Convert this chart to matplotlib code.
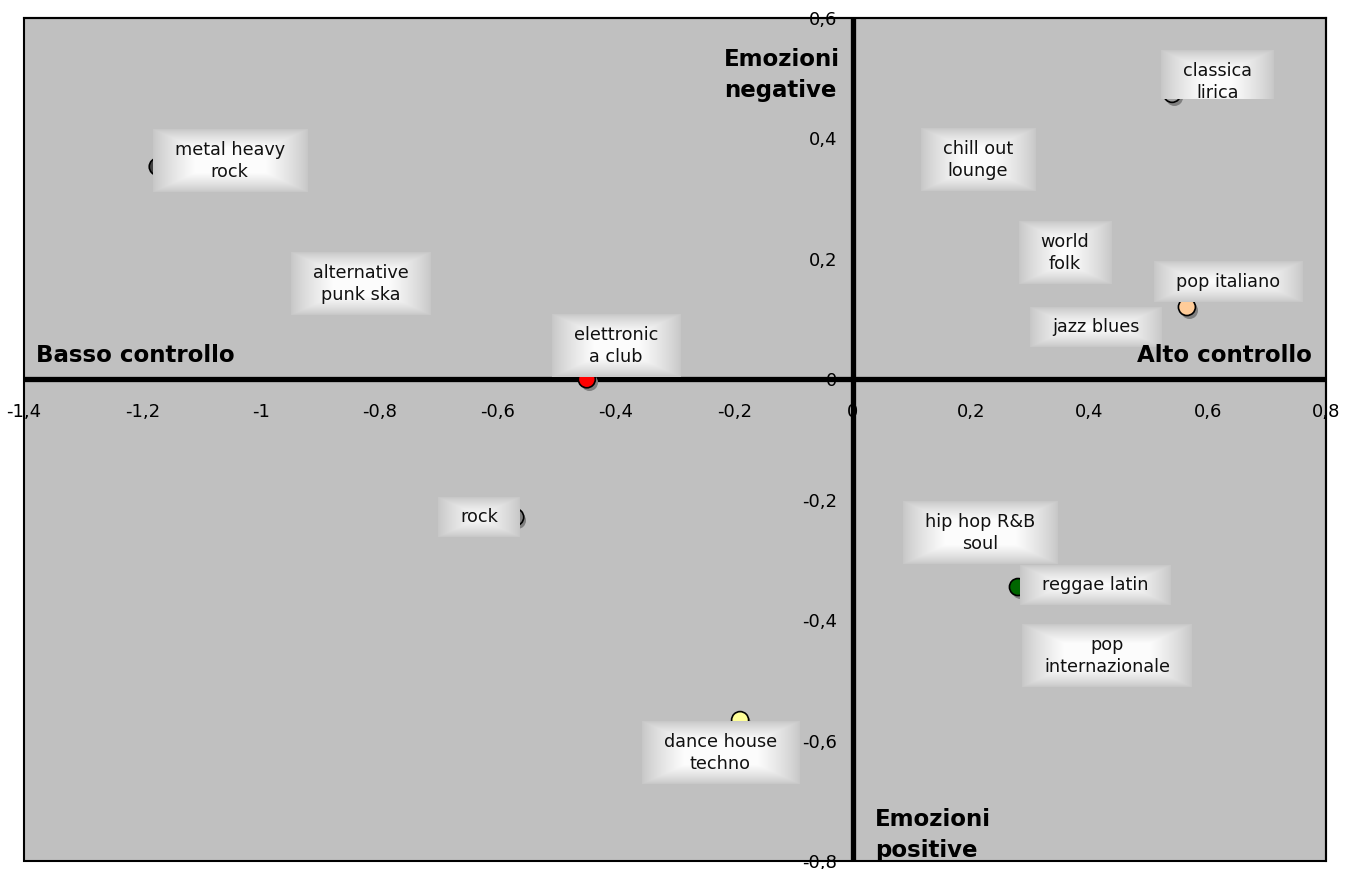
import matplotlib
matplotlib.use("Agg")
import matplotlib.pyplot as plt
import matplotlib.transforms as mtransforms
import numpy as np

plt.rcParams['font.family'] = ['DejaVu Sans']

# ---- data ----
genres = ["metal heavy\nrock", "alternative\npunk ska", "elettronic\na club", "rock",
          "dance house\ntechno", "classica\nlirica", "chill out\nlounge", "world\nfolk",
          "pop italiano", "jazz blues", "hip hop R&B\nsoul", "reggae latin",
          "pop\ninternazionale"]
controllo = [-1.174, -0.831, -0.449, -0.570, -0.190, 0.540, 0.212, 0.359,
             0.565, 0.411, 0.215, 0.2795, 0.430]
emozioni = [0.353, 0.158, 0.000, -0.229, -0.566, 0.474, 0.364, 0.210,
            0.120, 0.087, -0.255, -0.345, -0.460]
x_ticks = [-1.4, -1.2, -1.0, -0.8, -0.6, -0.4, -0.2, 0.0, 0.2, 0.4, 0.6, 0.8]
x_tick_labels = ["-1,4", "-1,2", "-1", "-0,8", "-0,6", "-0,4", "-0,2", "0", "0,2", "0,4", "0,6", "0,8"]
y_ticks = [-0.8, -0.6, -0.4, -0.2, 0.0, 0.2, 0.4, 0.6]
y_tick_labels = ["-0,8", "-0,6", "-0,4", "-0,2", "0", "0,2", "0,4", "0,6"]

# ---- styles ----
marker_colors = ["#404040", "#996633", "#ff0000", "#808080", "#ffff99", "#a0a0a0", "#9999ff",
                 "#66cc66", "#ffcc99", "#3366cc", "#cc6600", "#006600", "#ff99cc"]
label_offsets = [(72, 6), (0, 0), (29, 33), (-36, 0), (-20, -33), (45, 12), (0, 0),
                 (0, 0), (41, 25), (0, 0), (0, 0), (77, 2), (0, 0)]
label_clip_bottom_px = [None, None, None, None, None, 99, None, None, None, None, None, None, None]
PAD_X, PAD_Y = 22, 11
FADE_X, FADE_Y = 42, 19

W, H = 1358, 869
fig = plt.figure(figsize=(W / 100, H / 100), dpi=100)
ax = fig.add_axes([24 / W, 1 - 861 / H, 1302 / W, 843 / H])
ax.set_facecolor("#c0c0c0")
ax.set_xlim(-1.4, 0.8)
ax.set_ylim(-0.8, 0.6)
ax.set_autoscale_on(False)

for s in ["top", "right"]:
    ax.spines[s].set_linewidth(1.5)
ax.spines["left"].set_position(("data", 0))
ax.spines["bottom"].set_position(("data", 0))
ax.spines["left"].set_linewidth(3.8)
ax.spines["bottom"].set_linewidth(3.8)
ax.spines["left"].set_capstyle("butt")
ax.spines["bottom"].set_capstyle("butt")
ax.add_patch(plt.Rectangle((0, 0), 1, 1, transform=ax.transAxes, fill=False,
                           edgecolor="black", linewidth=1.5, zorder=2.6, clip_on=False))

ax.set_xticks(x_ticks)
ax.set_xticklabels(x_tick_labels)
ax.set_yticks(y_ticks)
ax.set_yticklabels(y_tick_labels)
ax.tick_params(axis="x", length=0, pad=17, labelsize=13)
ax.tick_params(axis="y", length=0, pad=11, labelsize=13)

# markers with shadow
shadow = mtransforms.offset_copy(ax.transData, fig=fig, x=2, y=-3, units="dots")
ax.scatter(controllo, emozioni, s=150, color="#7f7f7f", transform=shadow, zorder=3.5,
           linewidths=0)
ax.scatter(controllo, emozioni, s=150, c=marker_colors, edgecolors="black",
           linewidths=1.2, zorder=4)

texts = []
for name, xv, yv, off in zip(genres, controllo, emozioni, label_offsets):
    t = ax.annotate(name, (xv, yv), xytext=off, textcoords="offset pixels",
                    ha="center", va="center", fontsize=12.7, linespacing=1.3,
                    color="#111111", zorder=6)
    texts.append(t)

# axis titles
ax.text(-1.38, 0.04, "Basso controllo", fontsize=16.5, fontweight="bold",
        ha="left", va="center", zorder=6)
ax.text(0.776, 0.04, "Alto controllo", fontsize=16.5, fontweight="bold",
        ha="right", va="center", zorder=6)
ax.text(-0.217, 0.505, "Emozioni\nnegative", fontsize=16.5, fontweight="bold",
        ha="left", va="center", linespacing=1.45, zorder=6)
ax.text(0.038, -0.757, "Emozioni\npositive", fontsize=16.5, fontweight="bold",
        ha="left", va="center", linespacing=1.45, zorder=6)

# glow boxes behind labels (white centre fading to grey toward the edges)
fig.canvas.draw()
renderer = fig.canvas.get_renderer()
inv = ax.transData.inverted()
edge_grey = 0.775
for t, clip_px in zip(texts, label_clip_bottom_px):
    bb = t.get_window_extent(renderer)
    x0, y0 = bb.x0 - PAD_X, bb.y0 - PAD_Y
    x1, y1 = bb.x1 + PAD_X, bb.y1 + PAD_Y
    nw, nh = int(round(x1 - x0)), int(round(y1 - y0))
    px = np.arange(nw) + 0.5
    py = np.arange(nh) + 0.5
    PX, PY = np.meshgrid(px, py)
    dxe = np.minimum(PX, nw - PX) / FADE_X
    dye = np.minimum(PY, nh - PY) / FADE_Y
    g = np.clip(np.minimum(dxe, dye), 0, 1) ** 0.8
    val = edge_grey + (0.99 - edge_grey) * g
    img = np.dstack([val, val, val, np.ones_like(val)])
    (dx0, dy0), (dx1, dy1) = inv.transform([(x0, y0), (x1, y1)])
    im = ax.imshow(img, extent=(dx0, dx1, dy0, dy1), aspect="auto", zorder=5,
                   interpolation="bilinear", origin="lower")
    if clip_px is not None:
        ybot = H - clip_px
        clipbb = mtransforms.Bbox([[x0 - 5, ybot], [x1 + 5, y1 + 5]])
        im.set_clip_box(clipbb)
        t.set_clip_box(clipbb)
        t.set_clip_on(True)

ax.set_xlim(-1.4, 0.8)
ax.set_ylim(-0.8, 0.6)

fig.savefig("out.png", dpi=100, facecolor="white")
